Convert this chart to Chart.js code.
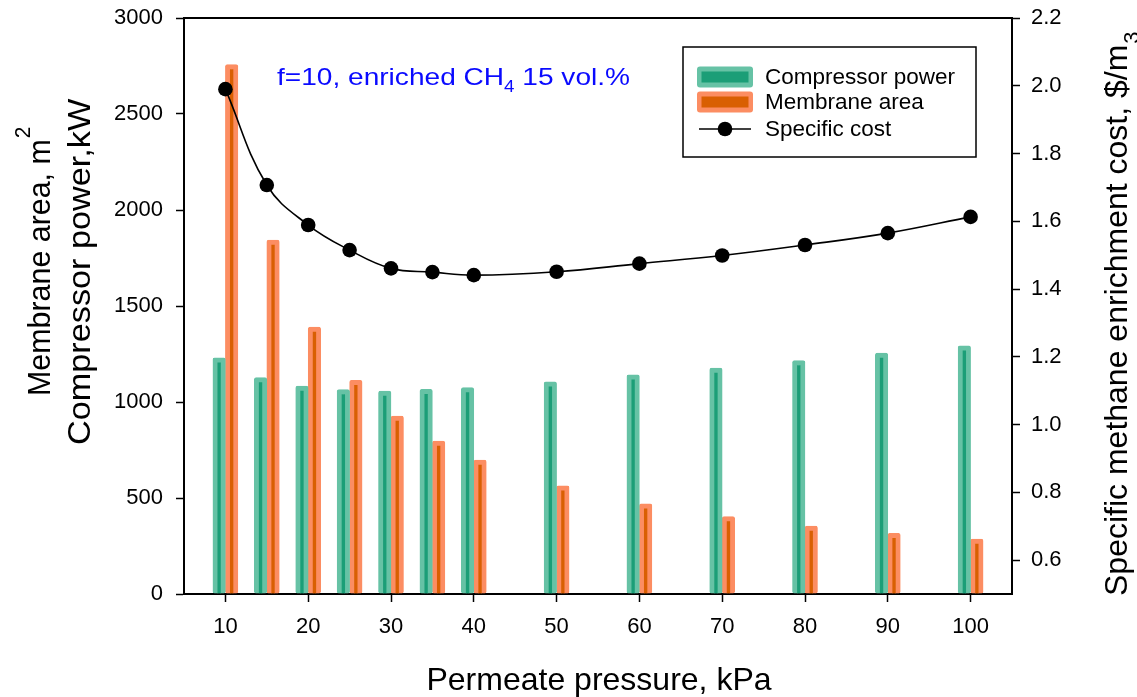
<!DOCTYPE html>
<html>
<head>
<meta charset="utf-8">
<script src="https://cdn.jsdelivr.net/npm/chart.js@4.4.1/dist/chart.umd.min.js"></script>
<style>
  html, body { margin: 0; padding: 0; background: #fff; }
  #wrap { width: 1137px; height: 697px; position: relative; }
</style>
</head>
<body>
<div id="wrap"><canvas id="chart"></canvas></div>
<script>
// Permeate pressure, kPa
const pressures = [10, 15, 20, 25, 30, 35, 40, 50, 60, 70, 80, 90, 100];
// Compressor power, kW
const compressorPower = [1230, 1127, 1083, 1065, 1057, 1066, 1075, 1105, 1141, 1177, 1216, 1255, 1292];
// Membrane area, m2
const membraneArea = [2758, 1843, 1390, 1113, 927, 797, 697, 564, 470, 403, 354, 316, 286];
// Specific methane enrichment cost, $/m3
const specificCost = [1.99, 1.707, 1.589, 1.515, 1.461, 1.450, 1.441, 1.451, 1.475, 1.499, 1.530, 1.565, 1.613];

const xTickValues = [10, 20, 30, 40, 50, 60, 70, 80, 90, 100];
const leftTickValues = [0, 500, 1000, 1500, 2000, 2500, 3000];
const rightTickValues = [0.6, 0.8, 1.0, 1.2, 1.4, 1.6, 1.8, 2.0, 2.2];

const seriesLabels = ['Compressor power', 'Membrane area', 'Specific cost'];

const FONT = "'Liberation Sans', Arial, Helvetica, sans-serif";
Chart.defaults.font.family = FONT;
Chart.defaults.color = '#000';

const GREEN_LIGHT = '#66c2a5', GREEN_DARK = '#1b9e77';
const ORANGE_LIGHT = '#fc8d62', ORANGE_DARK = '#d95f02';

const pts = vals => pressures.map((p, i) => ({ x: p, y: vals[i] }));

// bars: light outer edge with a dark stripe down the middle
const barBorder = { left: 4.9, right: 4.9, top: 5, bottom: 0 };

function fixedTicks(values) {
  return scale => { scale.ticks = values.map(v => ({ value: v })); };
}

// outer frame top edge, axis titles, in-plot note and legend
const decorations = {
  id: 'decorations',
  afterDraw(chart) {
    const { ctx, chartArea: a } = chart;
    ctx.save();

    ctx.strokeStyle = '#000';
    ctx.lineWidth = 2;
    ctx.beginPath();
    ctx.moveTo(a.left - 1, a.top);
    ctx.lineTo(a.right + 1, a.top);
    ctx.stroke();

    ctx.fillStyle = '#000';
    ctx.textBaseline = 'alphabetic';

    // x title
    ctx.font = `32px ${FONT}`;
    ctx.textAlign = 'center';
    ctx.fillText('Permeate pressure, kPa', (a.left + a.right) / 2 + 1, 690);

    // rotated titles, reading bottom to top
    ctx.textAlign = 'left';
    const rotLine = (x, y, stretch, size, main, sup, supShift) => {
      ctx.save();
      ctx.translate(x, y);
      ctx.rotate(-Math.PI / 2);
      ctx.scale(stretch, 1);
      ctx.font = `${size}px ${FONT}`;
      ctx.fillText(main, 0, 0);
      if (sup) {
        const w = ctx.measureText(main).width;
        ctx.font = `22px ${FONT}`;
        ctx.fillText(sup, w + 1, supShift);
      }
      ctx.restore();
    };
    rotLine(50, 396, 0.95, 32, 'Membrane area, m', '2', -20);
    rotLine(90, 445, 1.07, 32, 'Compressor power,kW', '', 0);
    rotLine(1127, 596, 1, 32, 'Specific methane enrichment cost, $/m', '3', 12);

    // note inside the plot
    ctx.save();
    ctx.fillStyle = '#0a0aff';
    ctx.translate(277, 85);
    ctx.scale(1.17, 1);
    let x = 0;
    const put = (t, dy, size) => {
      ctx.font = `${size}px ${FONT}`;
      ctx.fillText(t, x, dy);
      x += ctx.measureText(t).width;
    };
    put('f=10, enriched CH', 0, 24);
    put('4', 7, 16);
    put(' 15 vol.%', 0, 24);
    ctx.restore();

    // legend
    const ds = chart.data.datasets;
    ctx.lineWidth = 1.5;
    ctx.strokeStyle = '#000';
    ctx.strokeRect(683, 47, 293, 110);
    const rows = [77, 102, 129];
    ctx.font = `22.5px ${FONT}`;
    ctx.textBaseline = 'middle';
    ctx.textAlign = 'left';
    ds.forEach((d, i) => {
      const cy = rows[i];
      if (d.type === 'line') {
        ctx.strokeStyle = d.borderColor;
        ctx.lineWidth = 1.5;
        ctx.beginPath();
        ctx.moveTo(699, cy); ctx.lineTo(751, cy);
        ctx.stroke();
        ctx.fillStyle = d.pointBackgroundColor;
        ctx.beginPath();
        ctx.arc(725, cy, 7.3, 0, Math.PI * 2);
        ctx.fill();
      } else {
        ctx.fillStyle = d.borderColor;
        ctx.beginPath();
        ctx.roundRect(697, cy - 10.5, 56, 21, 3);
        ctx.fill();
        ctx.fillStyle = d.backgroundColor;
        ctx.fillRect(701.5, cy - 5.5, 47, 11);
      }
      ctx.fillStyle = '#000';
      ctx.fillText(d.label, 765, cy + 1);
    });

    ctx.restore();
  }
};

const axisLine = { color: '#000', width: 2 };
const tickGrid = { drawOnChartArea: false, drawTicks: true, offset: false, tickLength: 8, tickColor: '#000', tickWidth: 1.5 };
const tickFont = { size: 22 };

// vertical scales keep the plot frame where the layout puts it
const fitSide = w => s => { s.width = w; s.paddingTop = 0; s.paddingBottom = 0; };

new Chart(document.getElementById('chart'), {
  type: 'bar',
  data: {
    datasets: [
      {
        label: seriesLabels[0],
        data: pts(compressorPower),
        yAxisID: 'y',
        backgroundColor: GREEN_DARK,
        borderColor: GREEN_LIGHT,
        borderWidth: barBorder,
        borderRadius: 2,
        borderSkipped: false,
        barThickness: 12.5,
        order: 2
      },
      {
        label: seriesLabels[1],
        data: pts(membraneArea),
        yAxisID: 'y',
        backgroundColor: ORANGE_DARK,
        borderColor: ORANGE_LIGHT,
        borderWidth: barBorder,
        borderRadius: 2,
        borderSkipped: false,
        barThickness: 12.5,
        order: 2
      },
      {
        type: 'line',
        label: seriesLabels[2],
        data: pts(specificCost),
        yAxisID: 'y1',
        borderColor: '#000',
        borderWidth: 1.6,
        tension: 0.4,
        pointRadius: 7.3,
        pointHoverRadius: 7.3,
        pointBackgroundColor: '#000',
        pointBorderWidth: 0,
        order: 1
      }
    ]
  },
  options: {
    responsive: true,
    maintainAspectRatio: false,
    animation: false,
    devicePixelRatio: 1,
    layout: { padding: { top: 18, left: 0, right: 0, bottom: 0 } },
    plugins: { legend: { display: false }, tooltip: { enabled: false } },
    scales: {
      x: {
        type: 'linear',
        position: 'bottom',
        min: 5, max: 105,
        offset: false,
        grid: tickGrid,
        border: axisLine,
        ticks: { font: tickFont, padding: 12, maxRotation: 0, callback: v => String(v) },
        afterBuildTicks: fixedTicks(xTickValues),
        afterFit: s => { s.height = 103; }
      },
      y: {
        type: 'linear',
        position: 'left',
        min: 0, max: 3000,
        grid: tickGrid,
        border: axisLine,
        ticks: { font: tickFont, padding: 13, callback: v => String(v) },
        afterBuildTicks: fixedTicks(leftTickValues),
        afterFit: fitSide(184)
      },
      y1: {
        type: 'linear',
        position: 'right',
        min: 0.5, max: 2.2,
        grid: tickGrid,
        border: axisLine,
        ticks: { font: tickFont, padding: 11, callback: v => v.toFixed(1) },
        afterBuildTicks: fixedTicks(rightTickValues),
        afterFit: fitSide(125)
      }
    }
  },
  plugins: [decorations]
});
</script>
</body>
</html>
